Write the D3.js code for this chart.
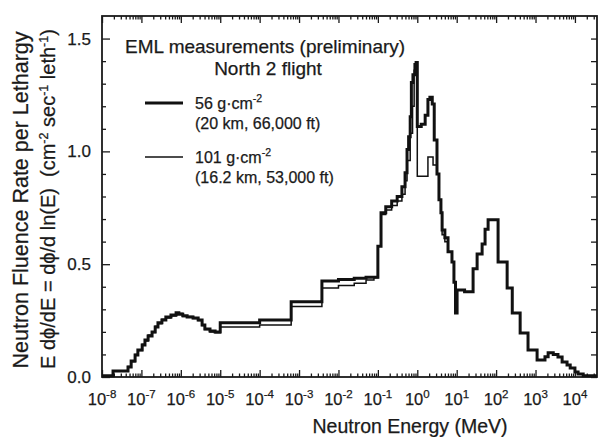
<!DOCTYPE html>
<html>
<head>
<meta charset="utf-8">
<script src="https://cdn.jsdelivr.net/npm/d3@7"></script>
<style>
  body { margin: 0; background: #fff; }
  text { font-family: "Liberation Sans", Arial, sans-serif; fill: #1a1a1a; stroke: #1a1a1a; stroke-width: 0.25px; }
</style>
</head>
<body>
<div class="chart"></div>
<script>
// step histograms: log10(E / MeV) at the left edge of each step, and the rate in that step
const logE56 = [-8.0, -7.72, -7.34, -7.26, -7.16, -7.09, -6.98, -6.91, -6.83, -6.73, -6.65, -6.58, -6.48, -6.38,
  -6.25, -6.12, -6.05, -5.95, -5.84, -5.69, -5.56, -5.46, -5.39, -5.26, -5.13, -5.0, -4.0, -3.2, -2.42, -2.0,
  -1.6, -1.3, -1.0, -0.92, -0.8, -0.65, -0.51, -0.39, -0.31, -0.26, -0.22, -0.18, -0.15, -0.11, -0.06, -0.03,
  0.0, 0.1, 0.2, 0.27, 0.32, 0.38, 0.43, 0.5, 0.55, 0.6, 0.63, 0.7, 0.78, 0.88, 0.93, 0.97, 1.01, 1.2,
  1.416, 1.518, 1.645, 1.72, 1.797, 2.05, 2.28, 2.41, 2.61, 2.81, 3.04, 3.24, 3.32, 3.45, 3.57, 3.675,
  3.8, 3.88, 4.0, 4.08, 4.21, 4.56];
const rate56 = [0.006, 0.027, 0.044, 0.071, 0.098, 0.12, 0.142, 0.164, 0.182, 0.2, 0.222, 0.24, 0.253, 0.266,
  0.275, 0.285, 0.278, 0.271, 0.266, 0.262, 0.253, 0.231, 0.213, 0.204, 0.2, 0.24, 0.253, 0.333, 0.426, 0.432,
  0.438, 0.442, 0.58, 0.728, 0.755, 0.78, 0.8, 0.843, 0.905, 1.008, 1.065, 1.154, 1.305, 1.34, 1.385, 1.394,
  1.11, 1.12, 1.16, 1.23, 1.24, 1.21, 1.05, 0.9, 0.786, 0.728, 0.652, 0.617, 0.555, 0.51, 0.42, 0.284, 0.386, 0.378,
  0.48, 0.545, 0.59, 0.655, 0.697, 0.51, 0.395, 0.284, 0.195, 0.12, 0.075, 0.09, 0.107, 0.1, 0.089, 0.067,
  0.053, 0.04, 0.022, 0.013, 0.005, 0.005];

const logE101 = [-8.0, -7.72, -7.34, -7.26, -7.16, -7.09, -6.98, -6.91, -6.83, -6.73, -6.65, -6.58, -6.48, -6.38,
  -6.25, -6.12, -6.05, -5.95, -5.84, -5.69, -5.56, -5.46, -5.39, -5.26, -5.13, -5.0, -4.0, -3.2, -2.42, -2.0,
  -1.6, -1.3, -1.1, -1.0, -0.92, -0.8, -0.65, -0.51, -0.39, -0.31, -0.26, -0.18, -0.12, -0.08,
  0.0, 0.27, 0.4, 0.5, 0.55, 0.6, 0.63, 0.7, 0.78, 0.88, 0.93, 0.97, 1.01, 1.2,
  1.416, 1.518, 1.645, 1.72, 1.797, 2.05, 2.28, 2.41, 2.61, 2.81, 3.04, 3.24, 3.32, 3.45, 3.57, 3.675,
  3.8, 3.88, 4.0, 4.08, 4.21, 4.56];
const rate101 = [0.006, 0.025, 0.047, 0.068, 0.1, 0.117, 0.145, 0.16, 0.186, 0.197, 0.225, 0.236, 0.256, 0.262,
  0.27, 0.28, 0.283, 0.268, 0.268, 0.259, 0.25, 0.228, 0.21, 0.2, 0.196, 0.222, 0.231, 0.313, 0.395, 0.405,
  0.416, 0.43, 0.44, 0.58, 0.72, 0.74, 0.76, 0.78, 0.81, 0.87, 0.96, 1.08, 1.2, 1.36,
  0.89, 0.975, 0.94, 0.9, 0.786, 0.728, 0.63, 0.6, 0.555, 0.51, 0.42, 0.284, 0.386, 0.378,
  0.48, 0.545, 0.59, 0.655, 0.697, 0.51, 0.395, 0.284, 0.195, 0.12, 0.075, 0.09, 0.107, 0.1, 0.089, 0.067,
  0.053, 0.04, 0.022, 0.013, 0.005, 0.005];

const xDecades = [-8, -7, -6, -5, -4, -3, -2, -1, 0, 1, 2, 3, 4];
const yTicks = [0, 0.5, 1.0, 1.5];
const yMinor = [0.1, 0.2, 0.3, 0.4, 0.6, 0.7, 0.8, 0.9, 1.1, 1.2, 1.3, 1.4];
const series = [
  { label: "101 g\u00b7cm", sup: "-2", sub: "(16.2 km, 53,000 ft)", logE: logE101, rate: rate101, w: 1.5 },
  { label: "56 g\u00b7cm", sup: "-2", sub: "(20 km, 66,000 ft)", logE: logE56, rate: rate56, w: 3 }
];

const width = 600, height = 437;
const plot = { left: 102, right: 597, top: 16, bottom: 377 };

const svg = d3.select(".chart").append("svg")
  .attr("width", width).attr("height", height);

const x = d3.scaleLog()
  .domain([1e-8, Math.pow(10, 4.56)])
  .range([plot.left, plot.right]);
const y = d3.scaleLinear()
  .domain([0, 1.6])
  .range([plot.bottom, plot.top]);

// major and minor energy ticks, drawn inward on bottom and top
const majorE = xDecades.map(d => Math.pow(10, d));
const minorE = [];
xDecades.forEach(d => { for (let k = 2; k <= 9; k++) { if (k * Math.pow(10, d) < x.domain()[1]) minorE.push(k * Math.pow(10, d)); } });

function clean(g) { g.select(".domain").remove(); g.selectAll("line").attr("stroke", "#1a1a1a").attr("stroke-width", 1.3); }

svg.append("g").attr("transform", `translate(0,${plot.bottom})`)
  .call(d3.axisBottom(x).tickValues(majorE).tickSize(-7).tickFormat("")).call(clean);
svg.append("g").attr("transform", `translate(0,${plot.bottom})`)
  .call(d3.axisBottom(x).tickValues(minorE).tickSize(-3.5).tickFormat("")).call(clean);
svg.append("g").attr("transform", `translate(0,${plot.top})`)
  .call(d3.axisTop(x).tickValues(majorE).tickSize(-7).tickFormat("")).call(clean);
svg.append("g").attr("transform", `translate(0,${plot.top})`)
  .call(d3.axisTop(x).tickValues(minorE).tickSize(-3.5).tickFormat("")).call(clean);

// value ticks, inward on left and right
svg.append("g").attr("transform", `translate(${plot.left},0)`)
  .call(d3.axisLeft(y).tickValues(yTicks).tickSize(-8).tickFormat("")).call(clean);
svg.append("g").attr("transform", `translate(${plot.left},0)`)
  .call(d3.axisLeft(y).tickValues(yMinor).tickSize(-4).tickFormat("")).call(clean);
svg.append("g").attr("transform", `translate(${plot.right},0)`)
  .call(d3.axisRight(y).tickValues(yTicks.concat(yMinor)).tickSize(-6).tickFormat("")).call(clean);

// frame
svg.append("rect")
  .attr("x", plot.left).attr("y", plot.top)
  .attr("width", plot.right - plot.left).attr("height", plot.bottom - plot.top)
  .attr("fill", "none").attr("stroke", "#1a1a1a").attr("stroke-width", 1.8);

// y tick labels
svg.selectAll(".ylab").data(yTicks).enter().append("text")
  .attr("x", 91).attr("y", d => y(d) + 6)
  .attr("text-anchor", "end").style("font-size", "17px")
  .text(d => d.toFixed(1));

// x tick labels 10^n
const xl = svg.selectAll(".xlab").data(xDecades).enter().append("text")
  .attr("x", d => x(Math.pow(10, d))).attr("y", 405)
  .attr("text-anchor", "middle").style("font-size", "16.5px");
xl.append("tspan").text("10");
xl.append("tspan").attr("dy", -7).style("font-size", "11.5px").text(d => d < 0 ? "-" + (-d) : d);

// axis titles
svg.append("text").attr("x", 410).attr("y", 433)
  .attr("text-anchor", "middle").style("font-size", "19.5px")
  .text("Neutron Energy (MeV)");

svg.append("text")
  .attr("transform", "translate(28,200) rotate(-90)")
  .attr("text-anchor", "middle").style("font-size", "21.5px")
  .text("Neutron Fluence Rate per Lethargy");

const yt = svg.append("text")
  .attr("transform", "translate(55,199) rotate(-90)")
  .attr("text-anchor", "middle").style("font-size", "20px")
  .style("white-space", "pre");
[["E d\u03d5/dE = d\u03d5/d ln(E)  (cm", 0], ["-2", -7], [" sec", 7], ["-1", -7], [" leth", 7], ["-1", -7], [")", 7]]
  .forEach(([t, dy], i) => {
    const s = yt.append("tspan").attr("dy", dy).text(t);
    if (i % 2 === 1) s.style("font-size", "12.5px");
  });

// curves
const line = d3.line()
  .x(d => x(Math.pow(10, d[0])))
  .y(d => y(d[1]))
  .curve(d3.curveStepAfter);

series.forEach(s => {
  svg.append("path")
    .datum(s.logE.map((l, i) => [l, s.rate[i]]))
    .attr("d", line)
    .attr("fill", "none")
    .attr("stroke", "#111")
    .attr("stroke-width", s.w)
    .attr("stroke-linejoin", "miter");
});

// annotation and legend
svg.append("text").attr("x", 125).attr("y", 53).style("font-size", "19px")
  .text("EML measurements (preliminary)");
svg.append("text").attr("x", 268).attr("y", 75).attr("text-anchor", "middle").style("font-size", "19px")
  .text("North 2 flight");

const legendRows = [series[1], series[0]];
legendRows.forEach((s, i) => {
  const ly = 103 + i * 54;
  svg.append("line").attr("x1", 145).attr("x2", 183).attr("y1", ly).attr("y2", ly)
    .attr("stroke", "#111").attr("stroke-width", s.w);
  const t = svg.append("text").attr("x", 195).attr("y", ly + 6).style("font-size", "16px");
  t.append("tspan").text(s.label);
  t.append("tspan").attr("dy", -7).style("font-size", "10.5px").text(s.sup);
  svg.append("text").attr("x", 195).attr("y", ly + 26).style("font-size", "16px").text(s.sub);
});
</script>
</body>
</html>
